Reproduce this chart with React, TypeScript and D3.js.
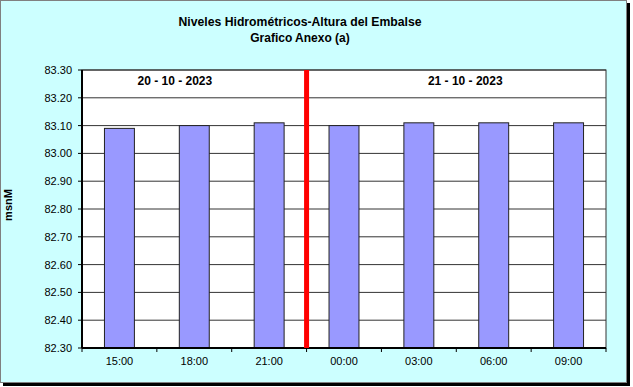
import React from "react";
import * as d3 from "d3";

const categories = ["15:00", "18:00", "21:00", "00:00", "03:00", "06:00", "09:00"];
const values = [83.09, 83.1, 83.11, 83.1, 83.11, 83.11, 83.11];
const yTicks = [82.3, 82.4, 82.5, 82.6, 82.7, 82.8, 82.9, 83.0, 83.1, 83.2, 83.3];
const dateLabels = [
  { text: "20 - 10 - 2023", after: "15:00", frac: 1.24 },
  { text: "21 - 10 - 2023", after: "03:00", frac: 1.12 },
];
const dividerAfter = "21:00";

const W = 633, H = 387;
const plot = { left: 82, right: 606, top: 70, bottom: 348 };
const font = "'Liberation Sans', Arial, sans-serif";

export default function App() {
  const x = d3.scaleBand<string>().domain(categories).range([plot.left, plot.right]).paddingInner(0.6).paddingOuter(0.3);
  const band = d3.scaleBand<string>().domain(categories).range([plot.left, plot.right]);
  const y = d3.scaleLinear().domain([82.3, 83.3]).range([plot.bottom, plot.top]);
  const step = band.step();
  const divX = (band(dividerAfter) as number) + step;

  return (
    <svg width={W} height={H} style={{ position: "absolute", left: 0, top: 0 }} fontFamily={font}>
      <rect x={3} y={3} width={627} height={383} fill="#000" />
      <rect x={0.5} y={0.5} width={626} height={382} fill="#CCFFFF" stroke="#808080" />
      <text x={300} y={26} textAnchor="middle" fontSize={12} fontWeight="bold" textLength={243} lengthAdjust="spacingAndGlyphs">Niveles Hidrométricos-Altura del Embalse</text>
      <text x={300} y={42} textAnchor="middle" fontSize={12} fontWeight="bold">Grafico Anexo (a)</text>
      <rect x={plot.left} y={plot.top} width={plot.right - plot.left} height={plot.bottom - plot.top} fill="#fff" />
      {yTicks.map((t) => (
        <g key={t}>
          <line x1={plot.left} x2={plot.right} y1={y(t)} y2={y(t)} stroke="#333" strokeWidth={1} />
          <line x1={plot.left - 4} x2={plot.left} y1={y(t)} y2={y(t)} stroke="#000" />
          <text x={plot.left - 10} y={y(t) + 4} textAnchor="end" fontSize={11}>{t.toFixed(2)}</text>
        </g>
      ))}
      {categories.map((c, i) => (
        <rect key={c} x={x(c)} y={y(values[i])} width={x.bandwidth()} height={plot.bottom - y(values[i])} fill="#9999FF" stroke="#222" strokeWidth={1} />
      ))}
      <rect x={plot.left} y={plot.top} width={plot.right - plot.left} height={plot.bottom - plot.top} fill="none" stroke="#333" strokeWidth={1} />
      <line x1={plot.left} x2={plot.left} y1={plot.top} y2={plot.bottom} stroke="#000" strokeWidth={2} />
      <line x1={plot.left} x2={plot.right} y1={plot.bottom} y2={plot.bottom} stroke="#000" strokeWidth={2} />
      {categories.map((c) => (
        <line key={"t" + c} x1={(band(c) as number) + step} x2={(band(c) as number) + step} y1={plot.bottom} y2={plot.bottom + 4} stroke="#000" />
      ))}
      <line x1={plot.left} x2={plot.left} y1={plot.bottom} y2={plot.bottom + 4} stroke="#000" />
      {categories.map((c) => (
        <text key={"l" + c} x={(band(c) as number) + step / 2} y={365} textAnchor="middle" fontSize={11}>{c}</text>
      ))}
      <line x1={divX} x2={divX} y1={plot.top} y2={plot.bottom} stroke="#FF0000" strokeWidth={5} />
      {dateLabels.map((d) => (
        <text key={d.text} x={(band(d.after) as number) + step * d.frac} y={85} textAnchor="middle" fontSize={12} fontWeight="bold">{d.text}</text>
      ))}
      <text transform={`translate(12,205) rotate(-90)`} textAnchor="middle" fontSize={11} fontWeight="bold">msnM</text>
    </svg>
  );
}
